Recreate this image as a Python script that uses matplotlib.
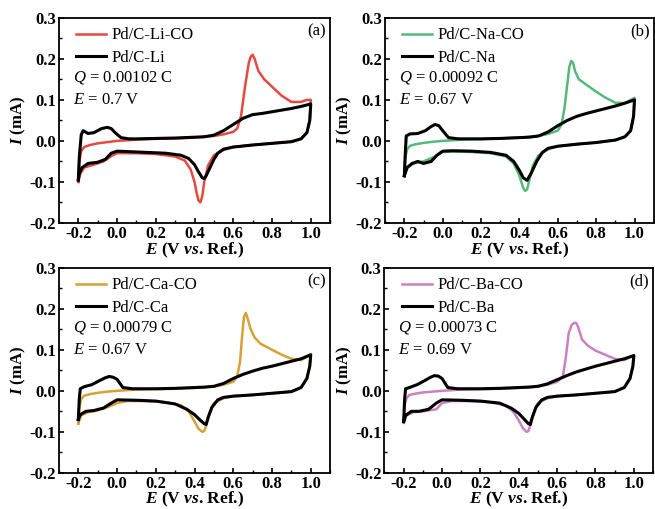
import matplotlib
matplotlib.use('Agg')
import matplotlib.pyplot as plt
from matplotlib.ticker import MultipleLocator

''' Style '''
plt.rcParams['font.family'] = ['Liberation Serif', 'DejaVu Serif']
plt.rcParams['mathtext.fontset'] = 'custom'
plt.rcParams['mathtext.rm'] = 'Liberation Serif'
plt.rcParams['mathtext.it'] = 'Liberation Serif:italic'
plt.rcParams['mathtext.bf'] = 'Liberation Serif:bold'
plt.rcParams['mathtext.bfit'] = 'Liberation Serif:italic:bold'

''' Data (read off the reference) '''
# CO-stripping curves: anodic sweep (fwd) then cathodic sweep (rev)
E_co_fwd_li = [-0.2, -0.195, -0.185, -0.17, -0.14, -0.1, -0.05, 0.0, 0.1, 0.2, 0.3, 0.4, 0.5, 0.55, 0.6,
               0.62, 0.64, 0.66, 0.68, 0.69, 0.7, 0.71, 0.73, 0.76, 0.8, 0.85, 0.9, 0.95, 0.98, 1.0]
I_co_fwd_li = [-0.1, -0.05, -0.025, -0.015, -0.01, -0.006, -0.003, 0.0, 0.003, 0.005, 0.006, 0.008, 0.012, 0.016, 0.022,
               0.03, 0.06, 0.13, 0.19, 0.205, 0.21, 0.2, 0.17, 0.15, 0.132, 0.11, 0.095, 0.095, 0.1, 0.1]
E_co_rev_li = [1.0, 0.995, 0.98, 0.95, 0.9, 0.8, 0.7, 0.6, 0.55, 0.5, 0.47, 0.45, 0.44, 0.43, 0.42,
               0.41, 0.4, 0.38, 0.35, 0.3, 0.2, 0.1, 0.0, -0.03, -0.07, -0.12, -0.17, -0.19, -0.2]
I_co_rev_li = [0.1, 0.05, 0.02, 0.005, -0.002, -0.006, -0.01, -0.015, -0.022, -0.035, -0.06, -0.1, -0.135, -0.15, -0.145,
               -0.125, -0.1, -0.07, -0.048, -0.038, -0.032, -0.03, -0.03, -0.037, -0.05, -0.058, -0.065, -0.08, -0.1]

# blank (no CO) curves
E_bl_fwd_li = [-0.2, -0.195, -0.185, -0.175, -0.15, -0.12, -0.08, -0.05, -0.03, -0.01, 0.02, 0.06, 0.1, 0.2,
               0.3, 0.4, 0.45, 0.5, 0.55, 0.6, 0.65, 0.7, 0.75, 0.8, 0.85, 0.9, 0.95, 1.0]
I_bl_fwd_li = [-0.095, -0.04, 0.015, 0.025, 0.018, 0.02, 0.03, 0.033, 0.03, 0.02, 0.008, 0.005, 0.005, 0.006,
               0.007, 0.009, 0.01, 0.014, 0.025, 0.04, 0.055, 0.064, 0.067, 0.071, 0.075, 0.079, 0.084, 0.09]
E_bl_rev_li = [1.0, 0.995, 0.98, 0.95, 0.9, 0.8, 0.7, 0.6, 0.55, 0.52, 0.5, 0.48, 0.46, 0.45, 0.44,
               0.42, 0.4, 0.37, 0.33, 0.25, 0.15, 0.05, 0.0, -0.03, -0.06, -0.1, -0.15, -0.18, -0.195, -0.2]
I_bl_rev_li = [0.09, 0.05, 0.02, 0.005, -0.002, -0.006, -0.01, -0.015, -0.02, -0.03, -0.045, -0.065, -0.085, -0.092, -0.09,
               -0.075, -0.058, -0.043, -0.035, -0.03, -0.028, -0.026, -0.025, -0.03, -0.045, -0.052, -0.055, -0.065, -0.08, -0.095]

E_co_fwd_na = [-0.2, -0.195, -0.185, -0.17, -0.14, -0.1, -0.05, 0.0, 0.1, 0.2, 0.3, 0.4, 0.5, 0.55, 0.6,
               0.62, 0.635, 0.65, 0.66, 0.67, 0.68, 0.69, 0.71, 0.74, 0.8, 0.85, 0.9, 0.95, 1.0]
I_co_fwd_na = [-0.085, -0.04, -0.02, -0.012, -0.008, -0.005, -0.002, 0.0, 0.003, 0.004, 0.006, 0.008, 0.012, 0.017, 0.025,
               0.04, 0.08, 0.14, 0.18, 0.195, 0.19, 0.17, 0.15, 0.14, 0.12, 0.105, 0.093, 0.092, 0.105]
E_co_rev_na = [1.0, 0.995, 0.98, 0.95, 0.9, 0.8, 0.7, 0.6, 0.55, 0.5, 0.47, 0.45, 0.44, 0.43, 0.42,
               0.4, 0.37, 0.33, 0.25, 0.15, 0.05, 0.0, -0.05, -0.1, -0.15, -0.185, -0.2]
I_co_rev_na = [0.105, 0.06, 0.025, 0.01, 0.002, -0.004, -0.008, -0.013, -0.02, -0.035, -0.06, -0.1, -0.118, -0.122, -0.115,
               -0.085, -0.055, -0.038, -0.03, -0.027, -0.026, -0.027, -0.04, -0.05, -0.055, -0.065, -0.085]

E_bl_fwd_na = [-0.2, -0.195, -0.19, -0.17, -0.13, -0.09, -0.06, -0.04, -0.02, 0.0, 0.03, 0.08, 0.2, 0.3,
               0.4, 0.45, 0.5, 0.55, 0.6, 0.65, 0.7, 0.75, 0.8, 0.85, 0.9, 0.95, 1.0]
I_bl_fwd_na = [-0.085, -0.03, 0.012, 0.017, 0.018, 0.025, 0.035, 0.04, 0.037, 0.025, 0.008, 0.005, 0.005, 0.006,
               0.008, 0.009, 0.012, 0.022, 0.037, 0.05, 0.06, 0.067, 0.073, 0.079, 0.085, 0.092, 0.1]
E_bl_rev_na = [1.0, 0.995, 0.98, 0.95, 0.9, 0.8, 0.7, 0.6, 0.55, 0.52, 0.49, 0.46, 0.44, 0.42,
               0.4, 0.37, 0.33, 0.25, 0.15, 0.05, 0.0, -0.03, -0.06, -0.1, -0.13, -0.16, -0.185, -0.2]
I_bl_rev_na = [0.1, 0.06, 0.025, 0.01, 0.002, -0.004, -0.008, -0.013, -0.018, -0.028, -0.05, -0.08, -0.096, -0.09,
               -0.072, -0.05, -0.035, -0.028, -0.025, -0.024, -0.025, -0.035, -0.05, -0.055, -0.05, -0.055, -0.065, -0.085]

E_co_fwd_ca = [-0.2, -0.195, -0.185, -0.17, -0.14, -0.1, -0.05, 0.0, 0.1, 0.2, 0.3, 0.4, 0.5, 0.55, 0.6,
               0.62, 0.635, 0.645, 0.655, 0.665, 0.675, 0.69, 0.71, 0.74, 0.8, 0.85, 0.9, 0.95, 1.0]
I_co_fwd_ca = [-0.08, -0.04, -0.02, -0.012, -0.008, -0.005, -0.002, 0.0, 0.003, 0.004, 0.005, 0.007, 0.01, 0.015, 0.022,
               0.035, 0.07, 0.13, 0.18, 0.19, 0.175, 0.15, 0.13, 0.115, 0.1, 0.088, 0.078, 0.075, 0.088]
E_co_rev_ca = [1.0, 0.995, 0.98, 0.95, 0.9, 0.8, 0.7, 0.6, 0.55, 0.5, 0.48, 0.46, 0.45, 0.44,
               0.42, 0.4, 0.37, 0.33, 0.25, 0.15, 0.05, 0.0, -0.05, -0.1, -0.15, -0.185, -0.2]
I_co_rev_ca = [0.088, 0.06, 0.03, 0.008, -0.002, -0.006, -0.01, -0.013, -0.018, -0.03, -0.05, -0.085, -0.098, -0.1,
               -0.092, -0.075, -0.05, -0.035, -0.028, -0.025, -0.025, -0.03, -0.04, -0.048, -0.052, -0.06, -0.08]

E_bl_fwd_ca = [-0.2, -0.195, -0.19, -0.17, -0.13, -0.09, -0.06, -0.04, -0.02, 0.0, 0.03, 0.08, 0.2, 0.3,
               0.4, 0.45, 0.5, 0.55, 0.6, 0.65, 0.7, 0.75, 0.8, 0.85, 0.9, 0.95, 1.0]
I_bl_fwd_ca = [-0.07, -0.02, 0.005, 0.01, 0.015, 0.025, 0.032, 0.035, 0.033, 0.028, 0.008, 0.005, 0.005, 0.006,
               0.008, 0.009, 0.011, 0.018, 0.03, 0.04, 0.048, 0.055, 0.06, 0.066, 0.072, 0.078, 0.088]
E_bl_rev_ca = [1.0, 0.995, 0.98, 0.95, 0.9, 0.8, 0.7, 0.6, 0.55, 0.52, 0.49, 0.47, 0.46, 0.45,
               0.43, 0.4, 0.36, 0.3, 0.2, 0.1, 0.0, -0.03, -0.07, -0.12, -0.16, -0.19, -0.2]
I_bl_rev_ca = [0.088, 0.06, 0.03, 0.008, -0.002, -0.006, -0.01, -0.013, -0.016, -0.022, -0.04, -0.065, -0.082, -0.08,
               -0.072, -0.058, -0.045, -0.032, -0.025, -0.023, -0.022, -0.03, -0.042, -0.048, -0.05, -0.058, -0.07]

E_co_fwd_ba = [-0.2, -0.195, -0.185, -0.17, -0.14, -0.1, -0.05, 0.0, 0.1, 0.2, 0.3, 0.4, 0.5, 0.55, 0.6,
               0.63, 0.645, 0.66, 0.675, 0.69, 0.7, 0.71, 0.73, 0.76, 0.8, 0.85, 0.9, 0.95, 1.0]
I_co_fwd_ba = [-0.075, -0.035, -0.018, -0.01, -0.007, -0.004, -0.002, 0.0, 0.003, 0.004, 0.005, 0.007, 0.01, 0.015, 0.022,
               0.035, 0.08, 0.14, 0.16, 0.166, 0.165, 0.155, 0.125, 0.11, 0.098, 0.088, 0.078, 0.075, 0.086]
E_co_rev_ba = [1.0, 0.995, 0.98, 0.95, 0.9, 0.8, 0.7, 0.6, 0.55, 0.5, 0.48, 0.46, 0.45, 0.44,
               0.42, 0.4, 0.37, 0.33, 0.25, 0.15, 0.05, 0.0, -0.03, -0.1, -0.15, -0.185, -0.2]
I_co_rev_ba = [0.086, 0.06, 0.03, 0.008, -0.002, -0.006, -0.01, -0.013, -0.018, -0.03, -0.05, -0.085, -0.098, -0.1,
               -0.09, -0.072, -0.05, -0.035, -0.028, -0.025, -0.025, -0.03, -0.045, -0.05, -0.052, -0.06, -0.078]

E_bl_fwd_ba = [-0.2, -0.195, -0.19, -0.17, -0.13, -0.09, -0.06, -0.04, -0.02, 0.0, 0.03, 0.08, 0.2, 0.3,
               0.4, 0.45, 0.5, 0.55, 0.6, 0.65, 0.7, 0.75, 0.8, 0.85, 0.9, 0.95, 1.0]
I_bl_fwd_ba = [-0.075, -0.02, 0.005, 0.008, 0.015, 0.025, 0.033, 0.037, 0.036, 0.03, 0.008, 0.005, 0.005, 0.006,
               0.008, 0.009, 0.011, 0.017, 0.027, 0.037, 0.046, 0.053, 0.06, 0.066, 0.072, 0.078, 0.086]
E_bl_rev_ba = [1.0, 0.995, 0.98, 0.95, 0.9, 0.8, 0.7, 0.6, 0.55, 0.52, 0.49, 0.47, 0.46, 0.45,
               0.43, 0.4, 0.36, 0.3, 0.2, 0.1, 0.0, -0.03, -0.07, -0.12, -0.16, -0.19, -0.2]
I_bl_rev_ba = [0.086, 0.06, 0.03, 0.008, -0.002, -0.006, -0.01, -0.013, -0.016, -0.022, -0.04, -0.065, -0.082, -0.08,
               -0.07, -0.055, -0.042, -0.03, -0.025, -0.023, -0.022, -0.03, -0.045, -0.05, -0.05, -0.06, -0.075]

cations = ['Li', 'Na', 'Ca', 'Ba']
panel_tags = ['(a)', '(b)', '(c)', '(d)']
charges = ['0.00102', '0.00092', '0.00079', '0.00073']
peak_potentials = ['0.7', '0.67', '0.67', '0.69']
co_colors = ['#e5493f', '#55b97a', '#d6a135', '#cc80c4']

x_ticks = [-0.2, 0.0, 0.2, 0.4, 0.6, 0.8, 1.0]
x_ticklabels = ['-0.2', '0.0', '0.2', '0.4', '0.6', '0.8', '1.0']
y_ticks = [-0.2, -0.1, 0.0, 0.1, 0.2, 0.3]
y_ticklabels = ['-0.2', '-0.1', '0.0', '0.1', '0.2', '0.3']

co_curves = [
    (E_co_fwd_li + E_co_rev_li, I_co_fwd_li + I_co_rev_li),
    (E_co_fwd_na + E_co_rev_na, I_co_fwd_na + I_co_rev_na),
    (E_co_fwd_ca + E_co_rev_ca, I_co_fwd_ca + I_co_rev_ca),
    (E_co_fwd_ba + E_co_rev_ba, I_co_fwd_ba + I_co_rev_ba),
]
blank_curves = [
    (E_bl_fwd_li + E_bl_rev_li, I_bl_fwd_li + I_bl_rev_li),
    (E_bl_fwd_na + E_bl_rev_na, I_bl_fwd_na + I_bl_rev_na),
    (E_bl_fwd_ca + E_bl_rev_ca, I_bl_fwd_ca + I_bl_rev_ca),
    (E_bl_fwd_ba + E_bl_rev_ba, I_bl_fwd_ba + I_bl_rev_ba),
]

''' Figure '''
fig = plt.figure(figsize=(6.55, 5.09), dpi=100)
positions = [
    [0.090, 0.562, 0.414, 0.403],
    [0.588, 0.562, 0.410, 0.403],
    [0.090, 0.071, 0.414, 0.403],
    [0.587, 0.071, 0.410, 0.403],
]

for i in range(4):
    ax = fig.add_axes(positions[i])
    E_co, I_co = co_curves[i]
    E_bl, I_bl = blank_curves[i]
    ax.plot(E_co, I_co, color=co_colors[i], lw=1.8, label='Pd/C-%s-CO' % cations[i])
    ax.plot(E_bl, I_bl, color='black', lw=2.2, label='Pd/C-%s' % cations[i])

    ax.set_xlim(-0.3, 1.1)
    ax.set_ylim(-0.2, 0.3)
    ax.xaxis.set_minor_locator(MultipleLocator(0.1))
    ax.yaxis.set_minor_locator(MultipleLocator(0.05))
    ax.set_xticks(x_ticks)
    ax.set_xticklabels(x_ticklabels)
    ax.set_yticks(y_ticks)
    ax.set_yticklabels(y_ticklabels)
    ax.tick_params(which='major', direction='in', length=3.5, width=1.2, labelsize=12, pad=2)
    ax.tick_params(which='minor', direction='in', length=2, width=1.0)
    for lab in ax.get_xticklabels() + ax.get_yticklabels():
        lab.set_fontweight('bold')
    for sp in ax.spines.values():
        sp.set_linewidth(1.3)

    ax.set_xlabel(r'$\mathbfit{E}$ (V $\mathbfit{vs}$. Ref.)', fontsize=12.5, fontweight='bold', labelpad=-1)
    ax.set_ylabel(r'$\mathbfit{I}$ (mA)', fontsize=12, fontweight='bold', labelpad=1)

    ax.legend(loc='upper left', bbox_to_anchor=(0.02, 1.01), frameon=False, fontsize=12,
              handlelength=1.8, handletextpad=0.35, labelspacing=0.4, borderaxespad=0.3)
    ax.text(0.05, 0.71, '$Q$ = %s C' % charges[i], transform=ax.transAxes, fontsize=12, va='center')
    ax.text(0.05, 0.60, '$E$ = %s V' % peak_potentials[i], transform=ax.transAxes, fontsize=12, va='center')
    ax.text(0.985, 0.935, panel_tags[i], transform=ax.transAxes, fontsize=12, ha='right', va='center')

fig.savefig('out.png', dpi=100)
